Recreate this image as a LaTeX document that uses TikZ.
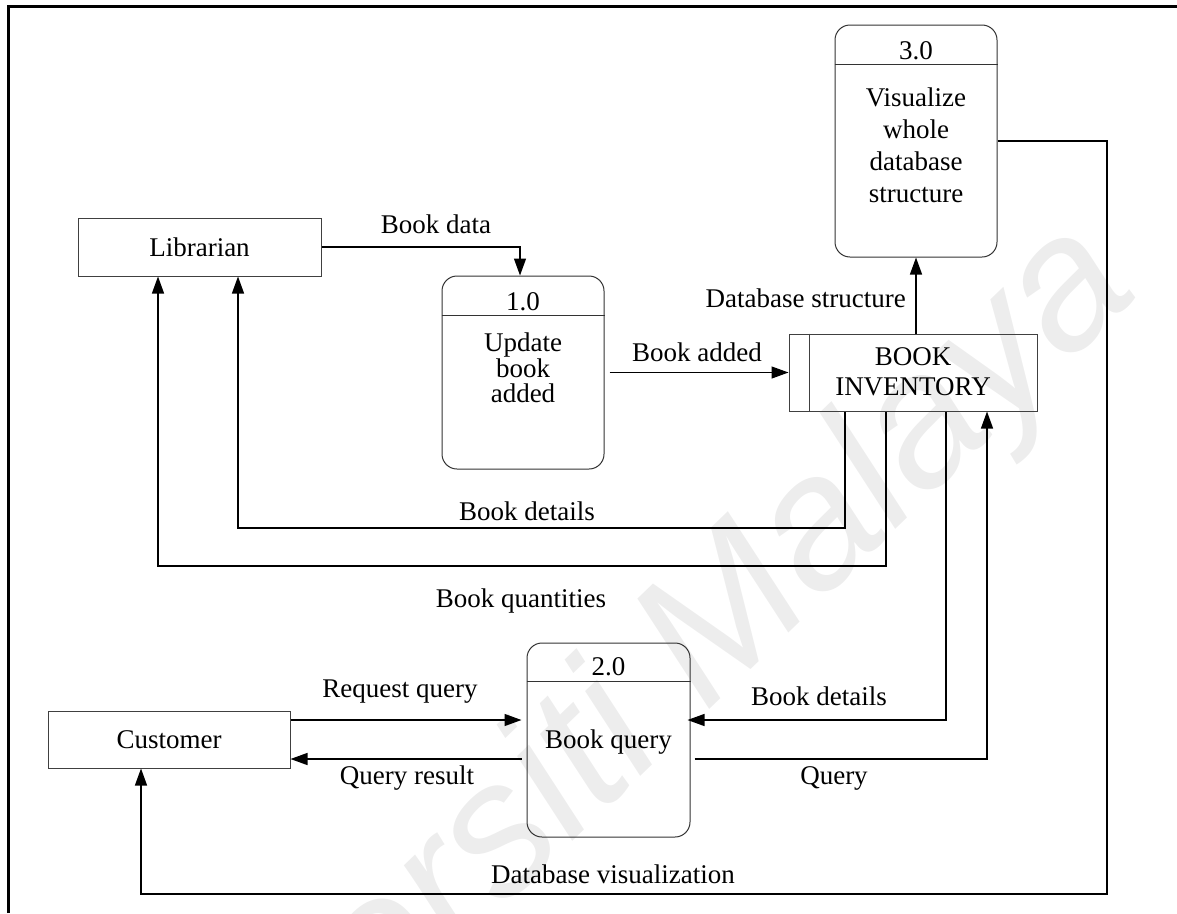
\documentclass[tikz,border=0pt]{standalone}
\usepackage{fontspec}
\setmainfont{Liberation Serif}
\newfontfamily\wmfont{Liberation Sans}
\usetikzlibrary{arrows.meta}

\tikzset{
  lbl/.style={font=\fontsize{27}{31}\selectfont, inner sep=0pt},
  entity/.style={draw=black!75, line width=1pt, inner sep=0pt},
  procbox/.style={draw=black!80, line width=1pt, rounded corners=15pt, inner sep=0pt},
  store/.style={draw=black!75, line width=1pt, inner sep=0pt},
  flow/.style={line width=1.3pt, -{Triangle[length=17pt,width=12pt]}},
}

\begin{document}
\begin{tikzpicture}[x=1pt, y=-1pt]
\useasboundingbox (0,0) rectangle (1177,913);

% faint watermark behind the drawing
\begin{scope}
  \clip (0,0) rectangle (1177,913);
  \node[rotate=44, anchor=base east, text=black!7, inner sep=0pt,
        font=\wmfont\itshape\fontsize{188}{188}\selectfont] (wm) at (1142,292) {Universiti Malaya};
\end{scope}

% outer frame
\draw[line width=3pt] (8.5,913) -- (8.5,6.5) -- (1177,6.5);

% external entities
\node[entity, minimum width=243pt, minimum height=58pt] (lib) at (199.5,247) {};
\node[lbl] (libt) at (199.5,247) {Librarian};
\node[entity, minimum width=242pt, minimum height=57pt] (cust) at (169,739.5) {};
\node[lbl] (custt) at (169,740) {Customer};

% process 1.0
\node[procbox, minimum width=162pt, minimum height=193pt] (p1) at (523,372.5) {};
\draw[black!80, line width=1pt] ([yshift=-40pt]p1.north west) -- ([yshift=-40pt]p1.north east);
\node[lbl] (p1n) at (523,302) {1.0};
\node[lbl, align=center, font=\fontsize{27}{25.5}\selectfont] (p1t) at (523,368) {Update\\book\\added};

% process 2.0
\node[procbox, minimum width=163pt, minimum height=194pt] (p2) at (608.5,740) {};
\draw[black!80, line width=1pt] ([yshift=-39pt]p2.north west) -- ([yshift=-39pt]p2.north east);
\node[lbl] (p2n) at (608.5,667) {2.0};
\node[lbl] (p2t) at (608.5,742) {Book query};

% process 3.0
\node[procbox, minimum width=162pt, minimum height=232pt] (p3) at (916,141) {};
\draw[black!80, line width=1pt] ([yshift=-40pt]p3.north west) -- ([yshift=-40pt]p3.north east);
\node[lbl] (p3n) at (916,51) {3.0};
\node[lbl, align=center, font=\fontsize{27}{32}\selectfont] (p3t) at (916,145) {Visualize\\whole\\database\\structure};

% data store
\node[store, minimum width=248pt, minimum height=77pt] (ds) at (913,372.5) {};
\draw[black!75, line width=1pt] ([xshift=21pt]ds.north west) -- ([xshift=21pt]ds.south west);
\node[lbl, align=center, font=\fontsize{27}{30}\selectfont] (dst) at (913,372) {BOOK\\INVENTORY};

% flows
\draw[flow] (lib.east) -- (520,247) -- (520,247 |- p1.north);
\node[lbl] (l1) at (436,224) {Book data};

\draw[flow, shorten <=5pt] (p1.east) -- (ds.west);
\node[lbl] (l2) at (697,352) {Book added};

\draw[flow] (p3.south |- ds.north) -- (p3.south);
\node[lbl, anchor=east] (l3) at (906,298) {Database structure};

\draw[flow] (p3.east) -- (1107,141) -- (1107,894) -- (141,894) -- (141,894 |- cust.south);
\node[lbl] (l4) at (613,874) {Database visualization};

\draw[flow] (845,411 |- ds.south) -- (845,528) -- (238,528) -- (238,528 |- lib.south);
\node[lbl] (l5) at (527,511) {Book details};

\draw[flow] (886,411 |- ds.south) -- (886,566) -- (158,566) -- (158,566 |- lib.south);
\node[lbl] (l6) at (521,601) {Book quantities};

\draw[flow, shorten >=-3pt] (946,411 |- ds.south) -- (946,720) -- (946,720 -| p2.east);
\node[lbl] (l7) at (819,696) {Book details};

\draw[flow, shorten <=4pt] (759,759 -| p2.east) -- (987,759) -- (987,759 |- ds.south);
\node[lbl] (l8) at (834,778) {Query};

\draw[flow, shorten >=5pt] (720,720 -| cust.east) -- (720,720 -| p2.west);
\node[lbl] (l9) at (400,692) {Request query};

\draw[flow, shorten <=5pt] (759,759 -| p2.west) -- (759,759 -| cust.east);
\node[lbl] (l10) at (407,778) {Query result};
\end{tikzpicture}
\end{document}
